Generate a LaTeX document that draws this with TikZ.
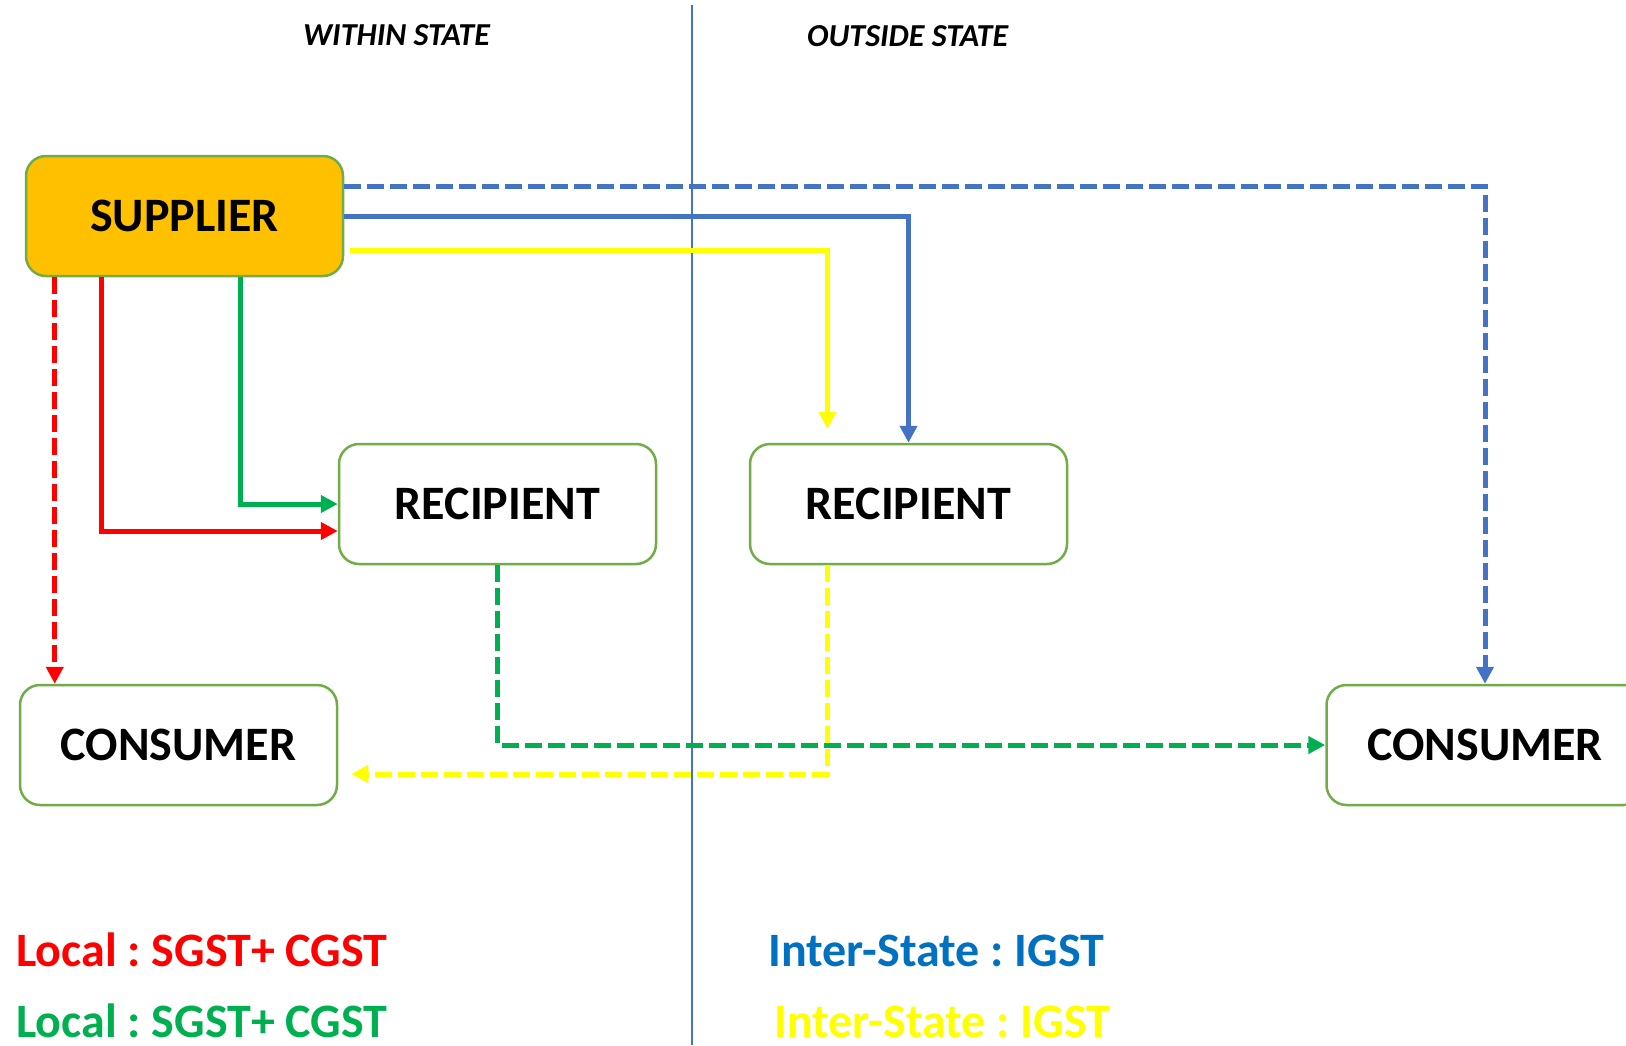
\documentclass[tikz,border=0pt]{standalone}
\usepackage{fontspec}
\setmainfont{Carlito}
\usetikzlibrary{arrows.meta}
\frenchspacing
\definecolor{supfill}{HTML}{FFC000}
\definecolor{boxgreen}{HTML}{70AD47}
\definecolor{flowred}{HTML}{FF0000}
\definecolor{flowgreen}{HTML}{00B050}
\definecolor{flowyellow}{HTML}{FFFF00}
\definecolor{flowblue}{HTML}{4472C4}
\definecolor{legblue}{HTML}{0070C0}
\tikzset{
  party/.style={draw=boxgreen, line width=2.5pt, rounded corners=20pt,
    minimum width=317pt, minimum height=120pt, inner sep=0pt,
    font=\fontsize{48}{48}\selectfont\bfseries},
  flow/.style={line width=5pt, -{Triangle[length=17pt,width=17pt]}},
  flowdash/.style={flow, dash pattern=on 17pt off 6pt},
  header/.style={anchor=base west, inner sep=0pt,
    font=\fontsize{32}{32}\selectfont\bfseries\itshape},
  legend/.style={anchor=base west, inner sep=0pt, text depth=0pt,
    font=\fontsize{48}{48}\selectfont\bfseries}
}
\begin{document}
\begin{tikzpicture}[x=1pt,y=-1pt]
\useasboundingbox (0,0) rectangle (1626,1045);

% state boundary
\coordinate (divtop) at (692,5);
\coordinate (divbot) at (692,1045);
\draw[flowblue, line width=1.2pt] (divtop) -- (divbot);

% column headings
\node[header] (hwithin) at (303,45) {WITHIN STATE};
\node[header] (houtside) at (807,46) {OUTSIDE STATE};

% parties
\node[party, fill=supfill] (sup) at (184.5,216) {SUPPLIER};
\node[party, fill=white] (rec1) at (497.5,504) {RECIPIENT};
\node[party, fill=white] (rec2) at (908.5,504) {RECIPIENT};
\node[party, fill=white] (con1) at (178.5,745) {CONSUMER};
\node[party, fill=white] (con2) at (1485,745) {CONSUMER};

% supplier to consumer, within state
\coordinate (rdash) at ([xshift=30pt]sup.south west);
\draw[flowdash, flowred] (rdash) -- (rdash |- con1.north);

% supplier to recipient, within state
\coordinate (rsolid) at ([xshift=77pt]sup.south west);
\draw[flow, flowred] (rsolid) |- ([yshift=-27pt]rec1.west);
\coordinate (gsolid) at ([xshift=216pt]sup.south west);
\draw[flow, flowgreen] (gsolid) |- (rec1.west);

% supplier to outside state
\draw[flowdash, flowblue] ([yshift=30pt]sup.east) -| (con2.north);
\draw[flow, flowblue] (sup.east) -| (rec2.north);
\draw[flow, flowyellow] ([xshift=6pt,yshift=-34pt]sup.east)
  -| ([xshift=-81pt,yshift=14pt]rec2.north);

% recipients onward to consumers
\draw[flowdash, flowgreen] (rec1.south) |- (con2.west);
\draw[flowdash, flowyellow] ([xshift=-81pt]rec2.south)
  |- ([xshift=13pt,yshift=-29pt]con1.east);

% legend
\node[legend, text=flowred] (lg1) at (16,966) {Local : SGST+ CGST};
\node[legend, text=flowgreen] (lg2) at (16,1037) {Local : SGST+ CGST};
\node[legend, text=legblue] (lg3) at (768,966) {Inter-State : IGST};
\node[legend, text=flowyellow] (lg4) at (774,1037) {Inter-State : IGST};
\end{tikzpicture}
\end{document}
